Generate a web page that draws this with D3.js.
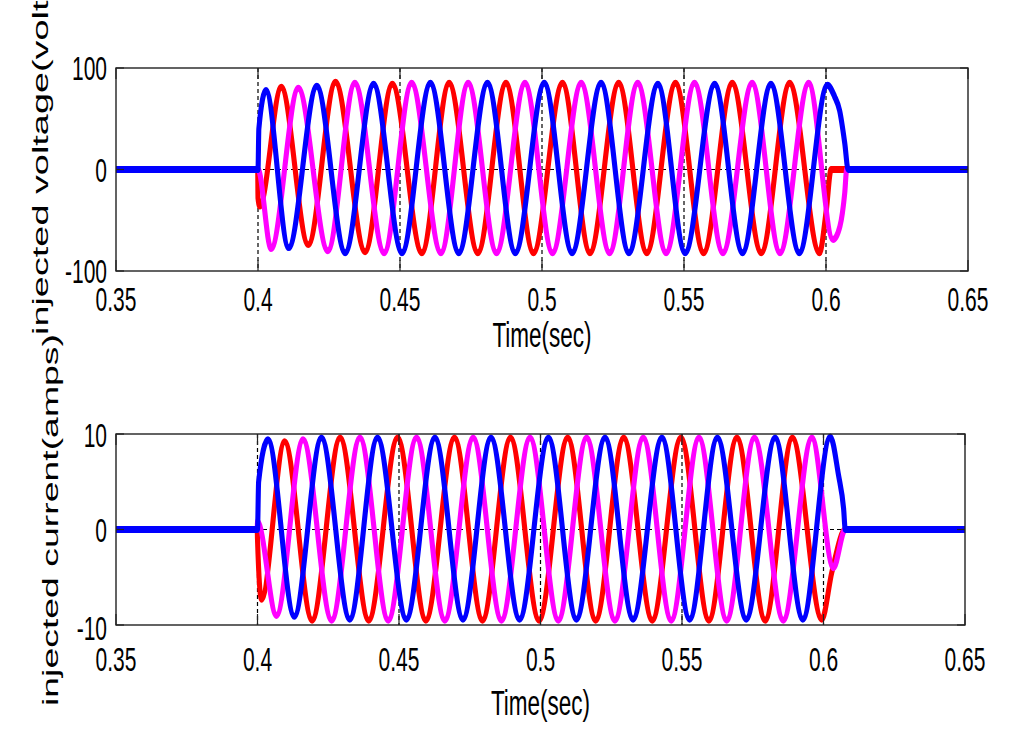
<!DOCTYPE html>
<html>
<head>
<meta charset="utf-8">
<script src="https://cdn.jsdelivr.net/npm/d3@7"></script>
<style>
  body { margin: 0; background: #fff; }
  text { font-family: Arial, "Liberation Sans", sans-serif; fill: #000; }
</style>
</head>
<body>
<div id="chart"></div>
<script>

// axis ticks
var timeTicks = [0.35, 0.4, 0.45, 0.5, 0.55, 0.6, 0.65];
var voltTicks = [-100, 0, 100];
var ampTicks = [-10, 0, 10];

// injected voltage: [time, volts] at switch-on / switch-off and at every peak and trough
var voltBlue = [[0.35,0],[0.4,0],[0.4003,40],[0.4028,78],[0.4108,-77],[0.4207,82],[0.4307,-82],[0.4407,84],
  [0.4507,-82],[0.4607,85],[0.4707,-82],[0.4808,85],[0.4906,-82],[0.5008,85],[0.5106,-82],[0.5208,85],
  [0.5306,-82],[0.5408,84],[0.5504,-82],[0.5608,84],[0.5706,-82],[0.5806,84],[0.5906,-82],[0.6005,83],
  [0.6030,72],[0.6048,58],[0.6066,26],[0.6078,0],[0.65,0]];
var voltRed = [[0.35,0],[0.3999,0],[0.4,-28],[0.4006,-36],[0.4082,81],[0.4177,-74],[0.4273,86],[0.4377,-81],
  [0.4473,84],[0.4577,-82],[0.4673,85],[0.4774,-82],[0.4873,85],[0.4970,-82],[0.5072,85],[0.5169,-82],
  [0.5270,85],[0.5369,-82],[0.5470,85],[0.5569,-82],[0.5670,85],[0.5772,-82],[0.5872,85],[0.5977,-82],
  [0.6001,-40],[0.6018,0],[0.65,0]];
var voltMagenta = [[0.35,0],[0.4,0],[0.4046,-78],[0.4142,80],[0.4246,-80],[0.4341,85],[0.4444,-82],
  [0.4541,85],[0.4644,-82],[0.4740,85],[0.4840,-82],[0.4940,85],[0.5037,-82],[0.5138,85],[0.5238,-82],
  [0.5337,85],[0.5437,-82],[0.5537,85],[0.5637,-82],[0.5740,85],[0.5838,-82],[0.5939,85],[0.6025,-69],
  [0.6049,-56],[0.6066,-23],[0.6073,0],[0.65,0]];

// injected current, same reading: [time, amps]
var ampBlue = [[0.35,0],[0.4,0],[0.4004,5],[0.4037,9.4],[0.4130,-9.1],[0.4226,9.6],[0.4326,-9.4],[0.4424,9.6],
  [0.4526,-9.4],[0.4627,9.6],[0.4726,-9.4],[0.4825,9.6],[0.4926,-9.4],[0.5028,9.6],[0.5127,-9.4],[0.5228,9.6],
  [0.5327,-9.4],[0.5429,9.6],[0.5527,-9.4],[0.5625,9.6],[0.5727,-9.4],[0.5829,9.6],[0.5927,-9.4],[0.6024,9.7],
  [0.6053,5.7],[0.6071,2.2],[0.6077,0],[0.65,0]];
var ampRed = [[0.35,0],[0.3999,0],[0.4,-1],[0.4014,-7.3],[0.4096,9.2],[0.4193,-9.5],[0.4292,9.6],[0.4393,-9.5],
  [0.4495,9.6],[0.4595,-9.5],[0.4696,9.6],[0.4795,-9.5],[0.4894,9.6],[0.4995,-9.5],[0.5096,9.6],[0.5195,-9.5],
  [0.5294,9.6],[0.5395,-9.5],[0.5496,9.6],[0.5595,-9.5],[0.5694,9.6],[0.5794,-9.5],[0.5890,9.6],[0.5994,-9.4],
  [0.6030,-4.4],[0.6077,0],[0.65,0]];
var ampMagenta = [[0.35,0],[0.3999,0],[0.4,0.8],[0.4067,-9.0],[0.4161,9.4],[0.4262,-9.5],[0.4362,9.6],[0.4462,-9.5],
  [0.4562,9.6],[0.4662,-9.5],[0.4762,9.6],[0.4862,-9.5],[0.4963,9.6],[0.5063,-9.5],[0.5163,9.6],[0.5263,-9.5],
  [0.5363,9.6],[0.5462,-9.5],[0.5560,9.6],[0.5658,-9.5],[0.5756,9.6],[0.5858,-9.5],[0.5959,9.6],[0.6035,-4.0],
  [0.6077,0],[0.65,0]];

// the original figure was stretched vertically, so text and strokes are too
var TEXT_STRETCH = 1.6;
var LINE_STRETCH = 1.35;

Panel = function(svg, opts) {
  this.svg = svg;
  this.opts = opts;
  this.initVis();
};

Panel.prototype.initVis = function() {
  var vis = this;
  var o = vis.opts;

  vis.x = d3.scaleLinear().domain([0.35, 0.65]).range([o.left, o.right]);
  vis.y = d3.scaleLinear().domain([o.ticks[0], o.ticks[o.ticks.length - 1]]).range([o.bottom, o.top]);

  vis.g = vis.svg.append("g");

  // dotted grid
  vis.g.selectAll("line.vgrid")
    .data(timeTicks.slice(1, -1))
    .enter().append("line")
    .attr("class", "vgrid")
    .attr("x1", function(d) { return vis.x(d); })
    .attr("x2", function(d) { return vis.x(d); })
    .attr("y1", o.top).attr("y2", o.bottom)
    .attr("stroke", "#000").attr("stroke-width", 1.2)
    .attr("stroke-dasharray", "4,3");

  vis.g.selectAll("line.hgrid")
    .data(o.ticks.slice(1, -1))
    .enter().append("line")
    .attr("class", "hgrid")
    .attr("x1", o.left).attr("x2", o.right)
    .attr("y1", function(d) { return vis.y(d); })
    .attr("y2", function(d) { return vis.y(d); })
    .attr("stroke", "#000").attr("stroke-width", 1.2)
    .attr("stroke-dasharray", "4,3");

  // traces, drawn in a stretched group
  var yIn = d3.scaleLinear().domain(vis.y.domain())
    .range(vis.y.range().map(function(v) { return v / LINE_STRETCH; }));
  var line = d3.line()
    .x(function(d) { return vis.x(d[0]); })
    .y(function(d) { return yIn(d[1]); })
    .curve(d3.curveMonotoneX);

  var lg = vis.g.append("g").attr("transform", "scale(1," + LINE_STRETCH + ")");
  lg.selectAll("path")
    .data(o.series)
    .enter().append("path")
    .attr("d", function(d) { return line(d.values); })
    .attr("fill", "none")
    .attr("stroke", function(d) { return d.color; })
    .attr("stroke-width", 5.1)
    .attr("stroke-linejoin", "round");

  // box
  vis.g.append("rect")
    .attr("x", o.left).attr("y", o.top)
    .attr("width", o.right - o.left).attr("height", o.bottom - o.top)
    .attr("fill", "none").attr("stroke", "#222").attr("stroke-width", 1.4);

  // inward ticks
  timeTicks.forEach(function(t) {
    [[o.bottom, o.bottom - 11], [o.top, o.top + 11]].forEach(function(p) {
      vis.g.append("line")
        .attr("x1", vis.x(t)).attr("x2", vis.x(t))
        .attr("y1", p[0]).attr("y2", p[1])
        .attr("stroke", "#222").attr("stroke-width", 1.2);
    });
  });
  o.ticks.forEach(function(v) {
    [[o.left, o.left + 8], [o.right, o.right - 8]].forEach(function(p) {
      vis.g.append("line")
        .attr("x1", p[0]).attr("x2", p[1])
        .attr("y1", vis.y(v)).attr("y2", vis.y(v))
        .attr("stroke", "#222").attr("stroke-width", 1.2);
    });
  });

  // tick labels
  timeTicks.forEach(function(t) {
    vis.label(vis.x(t), o.xTickBase, d3.format("")(t), "middle", 21);
  });
  o.ticks.forEach(function(v, i) {
    vis.label(o.left - 9, o.yTickBase[i], String(v), "end", 21);
  });

  vis.label((o.left + o.right) / 2, o.xLabelBase, "Time(sec)", "middle", 22.5);

  vis.g.append("text")
    .attr("transform", "translate(" + o.yLabelX + "," + o.yLabelY + ") rotate(-90)")
    .attr("text-anchor", "middle")
    .attr("textLength", o.yLabelLen)
    .attr("lengthAdjust", "spacingAndGlyphs")
    .style("font-size", "22px")
    .text(o.yLabel);
};

Panel.prototype.label = function(x, y, txt, anchor, size) {
  this.g.append("text")
    .attr("transform", "translate(" + x + "," + y + ") scale(1," + TEXT_STRETCH + ")")
    .attr("text-anchor", anchor)
    .style("font-size", size + "px")
    .text(txt);
};

var svg = d3.select("#chart").append("svg")
  .attr("width", 1013)
  .attr("height", 749);

svg.append("rect").attr("width", 1013).attr("height", 749).attr("fill", "#fff");

var top = new Panel(svg, {
  left: 116, right: 968, top: 68, bottom: 271,
  ticks: voltTicks,
  yTickBase: [283, 181.5, 80],
  xTickBase: 311,
  xLabelBase: 347,
  yLabel: "injected voltage(volts)",
  yLabelX: 48, yLabelY: 152, yLabelLen: 366,
  series: [
    {color: "#ff0000", values: voltRed},
    {color: "#ff00ff", values: voltMagenta},
    {color: "#0000ff", values: voltBlue}
  ]
});

var bottom = new Panel(svg, {
  left: 116, right: 965, top: 434, bottom: 625,
  ticks: ampTicks,
  yTickBase: [640, 542, 447],
  xTickBase: 671,
  xLabelBase: 715,
  yLabel: "injected current(amps)",
  yLabelX: 58, yLabelY: 520, yLabelLen: 372,
  series: [
    {color: "#ff0000", values: ampRed},
    {color: "#ff00ff", values: ampMagenta},
    {color: "#0000ff", values: ampBlue}
  ]
});

</script>
</body>
</html>
